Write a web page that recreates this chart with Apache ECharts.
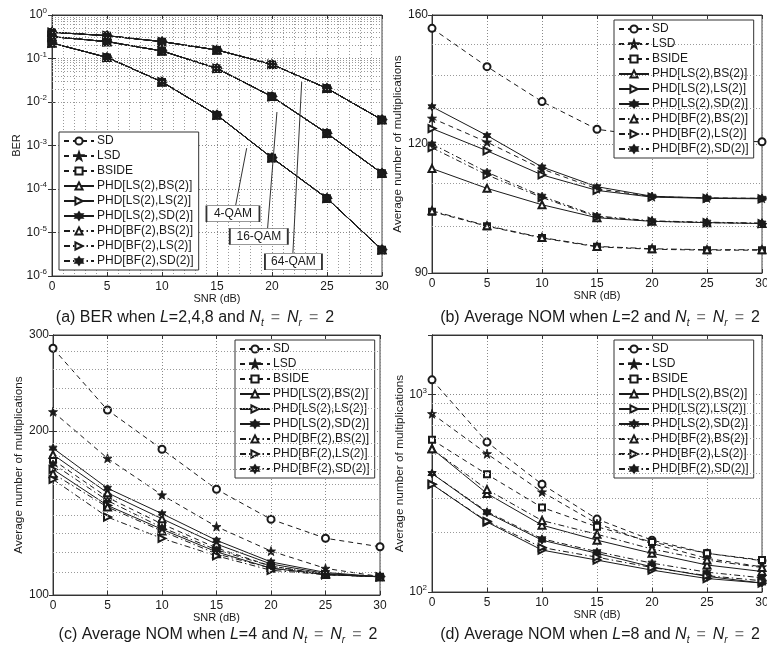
<!DOCTYPE html>
<html><head><meta charset="utf-8">
<script src="https://cdn.jsdelivr.net/npm/echarts@6/dist/echarts.min.js"></script>
<style>html,body{margin:0;padding:0;background:#fff}#c{width:767px;height:648px}</style>
</head><body><div id="c"></div>
<script>
const snr = [0, 5, 10, 15, 20, 25, 30];
const detectors = ['SD', 'LSD', 'BSIDE', 'PHD[LS(2),BS(2)]', 'PHD[LS(2),LS(2)]', 'PHD[LS(2),SD(2)]', 'PHD[BF(2),BS(2)]', 'PHD[BF(2),LS(2)]', 'PHD[BF(2),SD(2)]'];

// (a) BER (identical for all detectors)
const ber4QAM  = [0.227, 0.106, 0.029, 5.0e-3, 5.2e-4, 6.1e-5, 4.0e-6];
const ber16QAM = [0.318, 0.244, 0.149, 0.059, 0.0133, 1.9e-3, 2.3e-4];
const ber64QAM = [0.40, 0.335, 0.244, 0.157, 0.073, 0.0206, 3.9e-3];

// (b) NOM, L=2 (rows in detector order)
const nomL2 = [
  [155.3, 142.6, 131.9, 124.0, 122.0, 121.0, 120.6],
  [127.1, 120.5, 113.5, 108.6, 106.7, 106.4, 106.3],
  [103.2, 99.9, 97.3, 95.4, 94.9, 94.7, 94.7],
  [113.6, 108.7, 104.8, 101.8, 101.0, 100.7, 100.5],
  [124.2, 118.2, 112.0, 108.2, 106.6, 106.3, 106.2],
  [130.4, 122.3, 114.0, 109.1, 106.8, 106.4, 106.3],
  [103.4, 100.0, 97.4, 95.5, 95.0, 94.8, 94.8],
  [119.0, 112.0, 106.5, 102.0, 101.0, 100.7, 100.5],
  [120.0, 112.7, 106.8, 102.2, 101.1, 100.8, 100.6]
];
// (c) NOM, L=4
const nomL4 = [
  [283.6, 218.5, 185.1, 156.3, 137.7, 127.1, 122.6],
  [216.9, 178.2, 152.6, 133.5, 120.4, 111.9, 108.1],
  [177, 151, 135, 122, 113, 109, 108],
  [181, 154, 138, 124, 114, 109.5, 108],
  [170, 146, 132, 120, 112, 109, 108],
  [186, 157, 141, 126, 115, 110, 108],
  [167, 145, 131, 119, 112, 109, 108],
  [163, 139, 127, 118, 111, 109, 108],
  [174, 149, 133, 121, 113, 109, 108]
];
// (d) NOM, L=8
const nomL8 = [
  [1186, 574, 351, 234, 183, 157, 144],
  [799, 501, 321, 222, 176, 148, 134],
  [590, 394, 268, 214, 179, 157, 145],
  [531, 315, 218, 183, 157, 137, 127],
  [351, 226, 163, 145, 129, 117, 111],
  [398, 252, 183, 157, 134, 120, 111],
  [531, 330, 230, 196, 165, 145, 133],
  [351, 228, 168, 150, 133, 121, 114],
  [398, 255, 186, 160, 140, 126, 118]
];

const captions = [
  '(a) BER when {i|L}=2,4,8 and {i|N}{s|t}{g|=}{i|N}{s|r}{g|=}2',
  '(b) Average NOM when {i|L}=2 and {i|N}{s|t}{g|=}{i|N}{s|r}{g|=}2',
  '(c) Average NOM when {i|L}=4 and {i|N}{s|t}{g|=}{i|N}{s|r}{g|=}2',
  '(d) Average NOM when {i|L}=8 and {i|N}{s|t}{g|=}{i|N}{s|r}{g|=}2'
];

const INK = '#1a1a1a';
const STAR5 = 'path://M0,-10 L2.35,-3.24 L9.51,-3.09 L3.8,1.24 L5.88,8.09 L0,4 L-5.88,8.09 L-3.8,1.24 L-9.51,-3.09 L-2.35,-3.24 Z';
const STAR6 = 'path://M0,-10 L2.9,-5 L8.66,-5 L5.8,0 L8.66,5 L2.9,5 L0,10 L-2.9,5 L-8.66,5 L-5.8,0 L-8.66,-5 L-2.9,-5 Z';
const DASHDOT = [6, 3, 1.5, 3];
const styles = [
  {line: [5, 4], symbol: 'emptyCircle', size: 7},
  {line: [5, 4], symbol: STAR5, size: 9, fill: true},
  {line: [5, 4], symbol: 'emptyRect', size: 6},
  {line: 'solid', symbol: 'emptyTriangle', size: 7},
  {line: 'solid', symbol: 'emptyTriangle', size: 7, rotate: -90},
  {line: 'solid', symbol: STAR6, size: 8, fill: true},
  {line: DASHDOT, symbol: 'emptyTriangle', size: 7},
  {line: DASHDOT, symbol: 'emptyTriangle', size: 7, rotate: -90},
  {line: DASHDOT, symbol: STAR6, size: 8, fill: true}
];

const grids = [
  {left: 52, top: 15, width: 330, height: 261},
  {left: 432, top: 15, width: 330, height: 258},
  {left: 53, top: 335, width: 327, height: 260},
  {left: 432, top: 335, width: 330, height: 257}
];
const legendPos = [
  {left: 59, top: 132}, {left: 614, top: 20}, {left: 235, top: 340}, {left: 614, top: 340}
];
const captionPos = [{x: 195, y: 308}, {x: 600, y: 308}, {x: 218, y: 625}, {x: 600, y: 625}];

const gridLine = {show: true, lineStyle: {type: [1, 2], color: '#8a8a8a', width: 1}};
const supRich = {b: {fontSize: 12, color: INK, fontFamily: 'Liberation Sans', lineHeight: 16}, s: {fontSize: 8, color: INK, fontFamily: 'Liberation Sans', verticalAlign: 'top', lineHeight: 16}};

function powLabel(v) {
  const e = Math.round(Math.log10(v));
  return '{b|10}{s|' + e + '}';
}

const tickStyle = {show: true, inside: true, length: 4, lineStyle: {color: '#333'}};
const xAxis = [];
grids.forEach((g, i) => {
  xAxis.push({
    type: 'value', gridIndex: i, min: 0, max: 30, interval: 5,
    name: 'SNR (dB)', nameLocation: 'middle', nameGap: 17,
    nameTextStyle: {fontSize: 11, color: INK, fontFamily: 'Liberation Sans'},
    axisLine: {show: true, lineStyle: {color: '#333'}},
    axisTick: tickStyle,
    axisLabel: {fontSize: 12, color: INK, fontFamily: 'Liberation Sans', margin: 5},
    splitLine: gridLine,
    minorTick: i === 0 ? {show: true, splitNumber: 5, length: 0} : {show: false},
    minorSplitLine: i === 0 ? {show: true, lineStyle: {type: [1, 2], color: '#9a9a9a', width: 1}} : {show: false}
  });
});
grids.forEach((g, i) => {
  xAxis.push({type: 'value', gridIndex: i, position: 'top', min: 0, max: 30, interval: 5,
    axisLine: {show: true, lineStyle: {color: '#333'}}, axisTick: tickStyle,
    axisLabel: {show: false}, splitLine: {show: false}});
});

const yCfg = [
  {type: 'log', logBase: 10, min: 1e-6, max: 1, name: 'BER', nameGap: 29,
    axisLabel: {formatter: powLabel, rich: supRich, margin: 5}},
  {type: 'log', logBase: 120, min: 90, max: 160, name: 'Average number of multiplications', nameGap: 26,
    axisLabel: {formatter: v => String(Math.round(v)), fontSize: 12, color: INK, fontFamily: 'Liberation Sans', margin: 4}},
  {type: 'log', logBase: 200, min: 100, max: 300, name: 'Average number of multiplications', nameGap: 26,
    axisLabel: {formatter: v => String(Math.round(v)), fontSize: 12, color: INK, fontFamily: 'Liberation Sans', margin: 4}},
  {type: 'log', logBase: 10, min: 100, max: 2000, name: 'Average number of multiplications', nameGap: 26,
    axisLabel: {formatter: v => (Math.abs(Math.log10(v) - Math.round(Math.log10(v))) < 1e-6 ? powLabel(v) : ''), rich: supRich, margin: 5}}
];
const yAxis = [];
yCfg.forEach((c, i) => {
  yAxis.push(Object.assign({
    gridIndex: i, nameLocation: 'middle',
    nameTextStyle: {fontSize: i === 0 ? 11 : 11.8, color: INK, fontFamily: 'Liberation Sans'},
    axisLine: {show: true, lineStyle: {color: '#333'}},
    axisTick: tickStyle,
    splitLine: gridLine
  }, c));
});
yCfg.forEach((c, i) => {
  yAxis.push({type: 'log', logBase: c.logBase, min: c.min, max: c.max, gridIndex: i, position: 'right',
    axisLine: {show: true, lineStyle: {color: '#333'}}, axisTick: tickStyle,
    axisLabel: {show: false}, splitLine: {show: false}});
});

// minor grid positions for log axes
const minorA = [];
for (let e = -6; e <= -1; e++) for (let m = 2; m <= 9; m++) minorA.push(m * Math.pow(10, e));
const minorB = [100, 110, 130, 140, 150];
const minorC = [110, 120, 130, 140, 150, 160, 170, 180, 190, 220, 240, 260, 280];
const minorD = [200, 300, 400, 500, 600, 700, 800, 900];
const minors = [minorA, minorB, minorC, minorD];

const series = [];
minors.forEach((vals, i) => {
  series.push({
    type: 'line', name: '_grid' + i, xAxisIndex: i, yAxisIndex: i, data: [], silent: true, z: 1,
    markLine: {silent: true, symbol: 'none', animation: false, label: {show: false},
      lineStyle: {type: [1, 2], color: '#9a9a9a', width: 1},
      data: vals.map(v => ({yAxis: v}))}
  });
});

function mkSeries(name, st, values, gi) {
  return {
    type: 'line', name: name, xAxisIndex: gi, yAxisIndex: gi,
    data: snr.map((x, k) => [x, values[k]]),
    symbol: st.symbol, symbolSize: st.size, symbolRotate: st.rotate || 0,
    showAllSymbol: true, animation: false, z: 3,
    lineStyle: {color: INK, width: 1, type: st.line},
    itemStyle: st.fill ? {color: INK, borderColor: INK, borderWidth: 0.8} : {color: INK, borderColor: INK, borderWidth: 1}
  };
}

const berCurves = [ber4QAM, ber16QAM, ber64QAM];
detectors.forEach((name, d) => {
  berCurves.forEach(curve => series.push(mkSeries(name, styles[d], curve, 0)));
});
[nomL2, nomL4, nomL8].forEach((tbl, p) => {
  detectors.forEach((name, d) => series.push(mkSeries(name, styles[d], tbl[d], p + 1)));
});

// annotations for (a)
const annot = [
  {text: '4-QAM',  box: [16.45, Math.pow(10, -4.57)], from: [16.7, Math.pow(10, -4.37)], to: [17.7, Math.pow(10, -3.06)], w: 53},
  {text: '16-QAM', box: [18.8, Math.pow(10, -5.09)],  from: [19.6, Math.pow(10, -4.90)], to: [20.45, Math.pow(10, -2.23)], w: 58},
  {text: '64-QAM', box: [21.95, Math.pow(10, -5.67)], from: [21.9, Math.pow(10, -5.47)], to: [22.7, Math.pow(10, -1.54)], w: 57}
];
series.push({
  type: 'line', name: '_annot', xAxisIndex: 0, yAxisIndex: 0, data: [], z: 5, silent: true,
  markLine: {silent: true, animation: false, symbol: ['none', 'arrow'], symbolSize: [0, 7], label: {show: false},
    lineStyle: {type: 'solid', color: '#333', width: 1},
    data: annot.map(a => [{coord: a.from}, {coord: a.to}])},
  markPoint: {silent: true, animation: false,
    data: annot.map(a => ({coord: a.box, symbol: 'rect', symbolSize: [a.w, 16],
      itemStyle: {color: '#fff', borderColor: '#333', borderWidth: 1},
      label: {show: true, position: 'inside', formatter: a.text, color: INK, fontSize: 12, fontFamily: 'Liberation Sans'}}))}
});

const legend = legendPos.map(p => ({
  left: p.left, top: p.top, orient: 'vertical', data: detectors, selectedMode: false,
  backgroundColor: '#fff', borderColor: '#333', borderWidth: 1, borderRadius: 0,
  padding: [2, 5, 2, 4], itemGap: 1, itemWidth: 30, itemHeight: 9,
  textStyle: {fontSize: 12, color: INK, fontFamily: 'Liberation Sans', lineHeight: 14, padding: [0, 0, 0, -2]}
}));

const capRich = {
  i: {fontStyle: 'italic', fontSize: 16, color: INK, fontFamily: 'Liberation Sans'},
  s: {fontStyle: 'italic', fontSize: 10, color: INK, fontFamily: 'Liberation Sans', verticalAlign: 'bottom', lineHeight: 20},
  g: {fontSize: 16, color: '#777', fontFamily: 'Liberation Sans', padding: [0, 7, 0, 7]}
};
const title = captions.map((t, i) => ({
  text: t, left: captionPos[i].x, top: captionPos[i].y, textAlign: 'center', padding: 0,
  textStyle: {fontSize: 16, fontWeight: 'normal', color: INK, fontFamily: 'Liberation Sans', lineHeight: 20, rich: capRich}
}));

const chart = echarts.init(document.getElementById('c'), null, {renderer: 'canvas'});
chart.setOption({
  animation: false, backgroundColor: '#fff',
  title: title,
  grid: grids.map(g => Object.assign({show: true, borderColor: '#444', borderWidth: 1, backgroundColor: 'transparent', containLabel: false, outerBoundsMode: 'none'}, g)),
  legend: legend,
  xAxis: xAxis, yAxis: yAxis,
  series: series
});
</script></body></html>
